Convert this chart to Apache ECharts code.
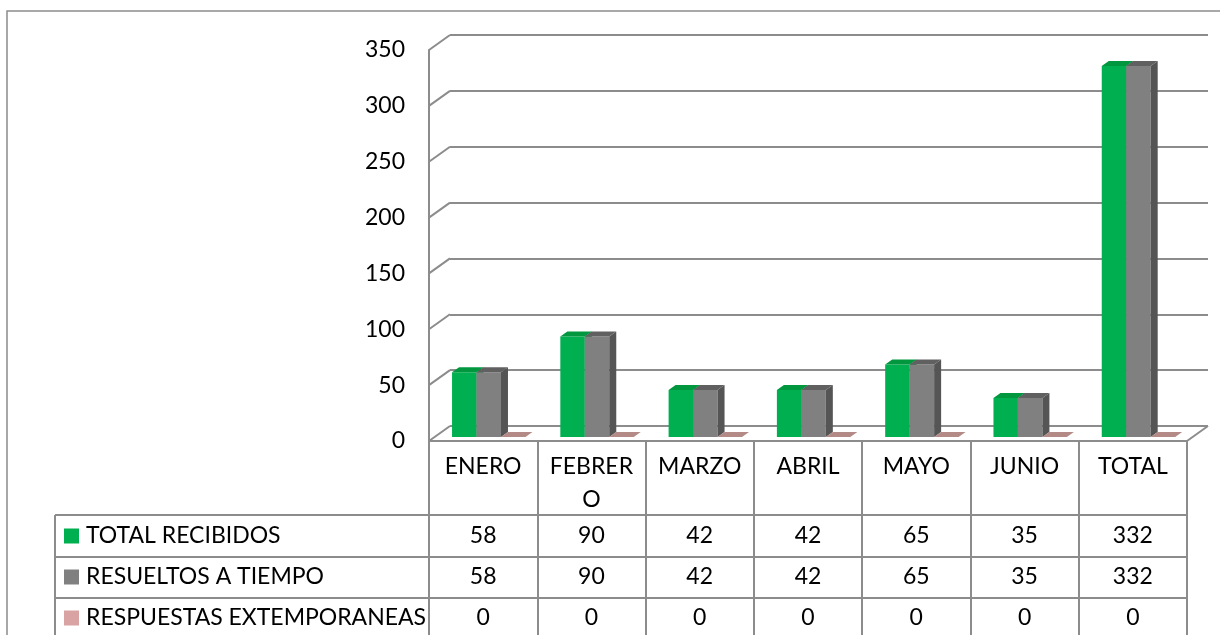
<!DOCTYPE html>
<html>
<head>
<meta charset="utf-8">
<script src="https://cdn.jsdelivr.net/npm/echarts@6/dist/echarts.min.js"></script>
<style>
html,body{margin:0;padding:0;background:#fff;}
#chart{width:1220px;height:635px;}
</style>
</head>
<body>
<div id="chart"></div>
<script>
const categories = ['ENERO', 'FEBRERO', 'MARZO', 'ABRIL', 'MAYO', 'JUNIO', 'TOTAL'];
const seriesNames = ['TOTAL RECIBIDOS', 'RESUELTOS A TIEMPO', 'RESPUESTAS EXTEMPORANEAS'];
const totalRecibidos = [58, 90, 42, 42, 65, 35, 332];
const resueltosATiempo = [58, 90, 42, 42, 65, 35, 332];
const respuestasExtemporaneas = [0, 0, 0, 0, 0, 0, 0];
const yTicks = [0, 50, 100, 150, 200, 250, 300, 350];

const FONT = 'Lato';
const FS = 23;
const GRID_GRAY = '#8c8c8c';
const DEPTH = [21, -15];           // 3D wall depth
const BAR_FRONT = [5.6, -4];       // bar front-face offset
const BAR_BACK = [12.6, -9];       // bar back-face offset
const ROW_Y = [536, 577, 618];     // table row centres

const styles = [
  { front: '#00B050', side: '#008a3e', top: '#00973f' },
  { front: '#808080', side: '#555555', top: '#606060' },
  { front: '#D9A3A3', side: '#a07e7b', top: '#b38a86' }
];

function barRenderer(k) {
  return function (params, api) {
    const i = api.value(0), v = api.value(1);
    const base = api.coord([i, 0]);
    const top = api.coord([i, v]);
    const band = api.size([1, 0])[0];
    const bw = band * 0.226;
    const x0 = base[0] - 1.5 * bw + k * bw;
    const x1 = x0 + bw;
    const yb = base[1], yt = top[1];
    const st = styles[k];
    const children = [];
    if (yb - yt > 0.5) {
      children.push({ type: 'polygon', shape: { points: [[x0 + BAR_FRONT[0], yb + BAR_FRONT[1]], [x1 + BAR_FRONT[0], yb + BAR_FRONT[1]], [x1 + BAR_FRONT[0], yt + BAR_FRONT[1]], [x0 + BAR_FRONT[0], yt + BAR_FRONT[1]]] }, style: { fill: st.front } });
      children.push({ type: 'polygon', shape: { points: [[x1 + BAR_FRONT[0], yb + BAR_FRONT[1]], [x1 + BAR_BACK[0], yb + BAR_BACK[1]], [x1 + BAR_BACK[0], yt + BAR_BACK[1]], [x1 + BAR_FRONT[0], yt + BAR_FRONT[1]]] }, style: { fill: st.side } });
    }
    children.push({ type: 'polygon', shape: { points: [[x0 + BAR_FRONT[0], yt + BAR_FRONT[1]], [x1 + BAR_FRONT[0], yt + BAR_FRONT[1]], [x1 + BAR_BACK[0], yt + BAR_BACK[1]], [x0 + BAR_BACK[0], yt + BAR_BACK[1]]] }, style: { fill: st.top } });
    children.push({ type: 'text', style: { x: base[0], y: ROW_Y[k], text: String(v), fill: '#000', font: FS + 'px ' + FONT, align: 'center', verticalAlign: 'middle' } });
    return { type: 'group', children: children };
  };
}

function frameRenderer(params, api) {
  const cs = params.coordSys;
  const p = api.coord([0, api.value(1)]);
  const children = [{ type: 'line', shape: { x1: cs.x, y1: p[1], x2: cs.x + DEPTH[0], y2: p[1] + DEPTH[1] }, style: { stroke: GRID_GRAY, lineWidth: 2 } }];
  if (api.value(1) === 0) {
    children.push({ type: 'line', shape: { x1: cs.x + cs.width, y1: p[1], x2: cs.x + cs.width + DEPTH[0], y2: p[1] + DEPTH[1] }, style: { stroke: GRID_GRAY, lineWidth: 2 } });
  }
  return { type: 'group', children: children };
}

const seriesData = [totalRecibidos, resueltosATiempo, respuestasExtemporaneas];

const legends = seriesNames.map(function (name, k) {
  return {
    orient: 'vertical', left: 64, top: ROW_Y[k] - 11.5, itemWidth: 15, itemHeight: 15, itemGap: 0, padding: 0,
    icon: 'rect', data: [name], selectedMode: false,
    textStyle: { fontSize: FS, fontFamily: FONT, color: '#000', lineHeight: 23, padding: [0, 0, 0, 2] }
  };
});

const chart = echarts.init(document.getElementById('chart'), null, { renderer: 'canvas' });
chart.setOption({
  animation: false,
  backgroundColor: '#fff',
  textStyle: { fontFamily: FONT },
  grid: [
    { left: 429, right: 33, top: 50, bottom: 194 },
    { left: 450, right: 12, top: 35, bottom: 209 }
  ],
  xAxis: [
    {
      type: 'category', gridIndex: 0, data: categories,
      axisLine: { show: true, lineStyle: { color: GRID_GRAY, width: 2 } },
      axisTick: { show: true, length: 200, interval: 0, lineStyle: { color: GRID_GRAY, width: 2 } },
      axisLabel: {
        interval: 0, margin: 9, fontSize: FS, fontFamily: FONT, color: '#000', lineHeight: 33,
        formatter: function (v) { return v === 'FEBRERO' ? 'FEBRER\nO' : v; }
      }
    },
    { type: 'category', gridIndex: 1, data: categories, show: false }
  ],
  yAxis: [
    {
      type: 'value', gridIndex: 0, min: 0, max: 350, interval: 50,
      axisLine: { show: true, lineStyle: { color: GRID_GRAY, width: 2 } },
      axisTick: { show: false },
      splitLine: { show: false },
      axisLabel: { margin: 24, fontSize: FS, fontFamily: FONT, color: '#000' }
    },
    {
      type: 'value', gridIndex: 1, min: 0, max: 350, interval: 50,
      axisLine: { show: false }, axisTick: { show: false }, axisLabel: { show: false },
      splitLine: { show: true, lineStyle: { color: GRID_GRAY, width: 2 } }
    }
  ],
  legend: legends,
  graphic: [
    { type: 'rect', shape: { x: 7, y: 11, width: 1400, height: 800 }, style: { fill: null, stroke: GRID_GRAY, lineWidth: 1.5 }, z: -1 },
    { type: 'line', shape: { x1: 55, y1: 515, x2: 1187, y2: 515 }, style: { stroke: GRID_GRAY, lineWidth: 2 } },
    { type: 'line', shape: { x1: 55, y1: 557, x2: 1187, y2: 557 }, style: { stroke: GRID_GRAY, lineWidth: 2 } },
    { type: 'line', shape: { x1: 55, y1: 598, x2: 1187, y2: 598 }, style: { stroke: GRID_GRAY, lineWidth: 2 } },
    { type: 'line', shape: { x1: 55, y1: 515, x2: 55, y2: 640 }, style: { stroke: GRID_GRAY, lineWidth: 2 } }
  ],
  series: [
    {
      type: 'custom', name: 'frame', xAxisIndex: 0, yAxisIndex: 0, z: 1,
      renderItem: frameRenderer, data: yTicks.map(function (v) { return [0, v]; })
    }
  ].concat(seriesNames.map(function (name, k) {
    return {
      type: 'custom', name: name, xAxisIndex: 0, yAxisIndex: 0, z: 2 + k,
      itemStyle: { color: styles[k].front },
      renderItem: barRenderer(k),
      data: seriesData[k].map(function (v, i) { return [i, v]; })
    };
  }))
});
</script>
</body>
</html>
